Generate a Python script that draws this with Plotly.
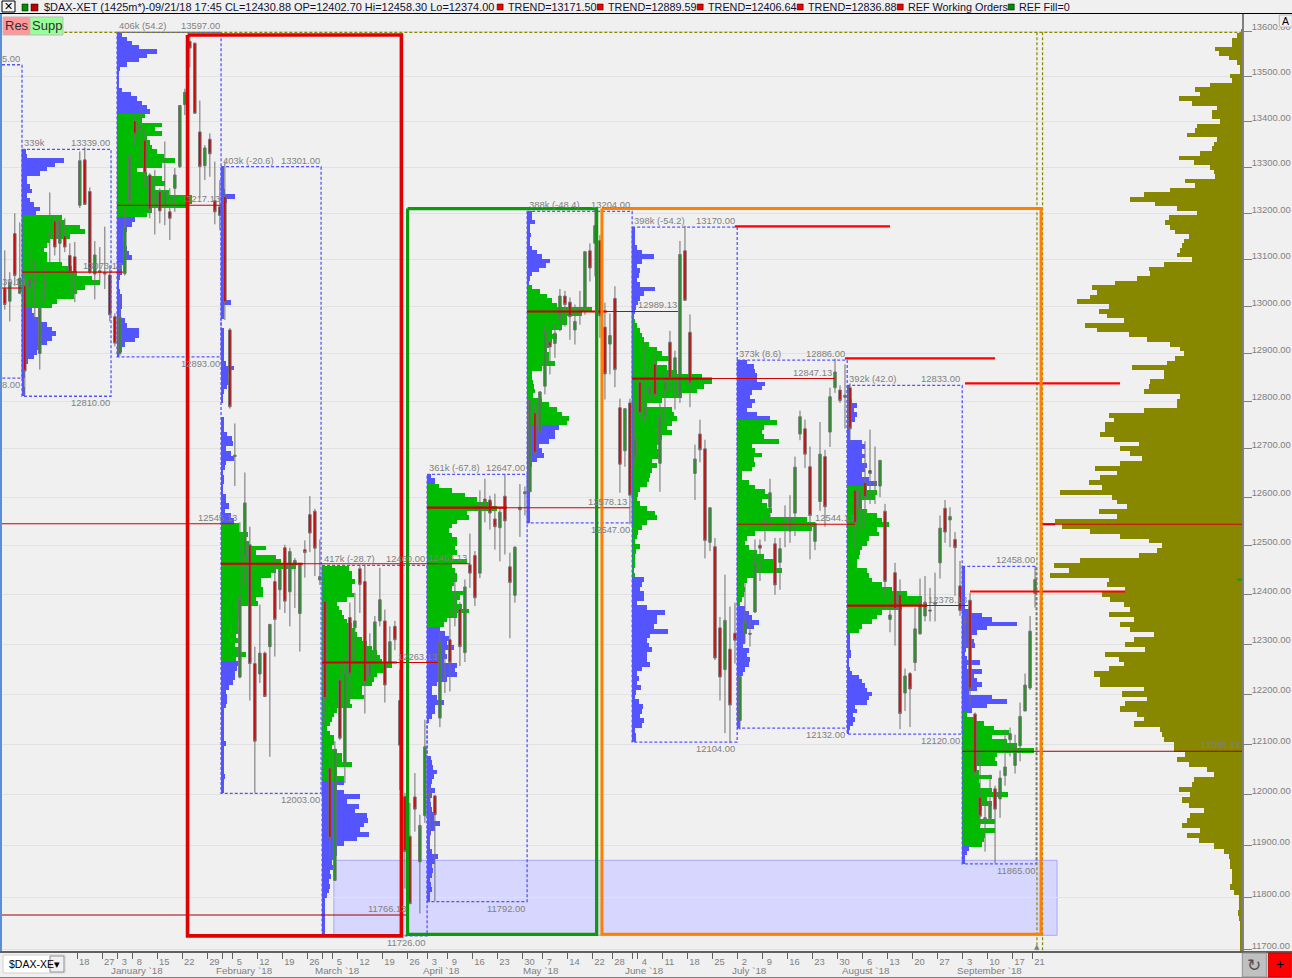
import math
import numpy as np
import plotly.graph_objects as go

# ---------- session candles (prices) ----------
highs = [13120,13073,13200,13180,13077,13120,13098,13035,13084,13245,
13196,13189,13189,13135,13138,13334,13343,13256,13140,13127,
13171,13088,12985,13026,13211,13330,13414,13428,13381,13287,
13294,13254,13356,13254,13298,13435,13472,13588,13574,13446,
13348,13374,13312,13272,13312,12954,12753,12548,12651,12539,
12295,12380,12285,12340,12479,12455,12502,12496,12475,12465,
12511,12602,12576,12513,12387,12079,12106,12261,12275,12384,
12404,12461,12461,12322,12357,12455,12370,12336,12347,12249,
12004,11984,12043,11961,12149,12017,12000,12322,12288,12370,
12445,12385,12431,12525,12489,12614,12638,12603,12607,12579,
12648,12486,12499,12627,12622,12803,12796,12821,12961,12926,
12964,13037,13033,13019,13004,13033,13118,13135,13211,13153,
13008,12985,13043,12805,12784,12805,12800,12842,12924,12875,
12901,12796,12863,12948,12906,13140,13173,12983,12709,12761,
12719,12579,12516,12355,12441,12376,12384,12237,12428,12351,
12513,12513,12558,12638,12516,12516,12583,12604,12684,12780,
12761,12705,12548,12756,12698,12828,12889,12833,12877,12837,
12614,12618,12716,12740,12705,12677,12586,12397,12465,12431,
12251,12244,12374,12433,12438,12414,12445,12562,12594,12579,
12528,12469,12360,12404,12163,12092,11991,12040,12018,12048,
12129,12133,12119,12183,12241,12357,12458.30]
tops = [13038,13051,13156,13060,13044,13058,13056,12996,13051,13156,
13183,13185,13151,13109,13106,13314,13316,13247,13110,13076,
13072,13067,12978,12978,13171,13323,13401,13388,13359,13283,
13233,13247,13247,13203,13283,13435,13464,13577,13573,13377,
13342,13361,13227,13214,13236,12950,12687,12394,12588,12502,
12261,12282,12282,12340,12427,12452,12496,12488,12470,12463,
12492,12564,12571,12437,12387,12053,12090,12228,12242,12354,
12347,12453,12427,12263,12345,12390,12347,12305,12336,12187,
11997,11919,11996,11940,12095,12002,11998,12304,12242,12309,
12398,12371,12416,12461,12480,12585,12596,12594,12555,12569,
12602,12457,12497,12579,12611,12803,12775,12819,12947,12924,
12943,13022,13022,13009,12968,12997,13117,13119,13173,13141,
12956,12938,13017,12786,12784,12796,12723,12840,12788,12829,
12878,12766,12842,12924,12891,13111,13119,12945,12679,12731,
12700,12578,12498,12333,12348,12290,12322,12235,12347,12322,
12465,12501,12548,12609,12504,12494,12546,12558,12662,12767,
12742,12663,12546,12689,12684,12809,12861,12823,12812,12828,
12614,12614,12630,12655,12632,12676,12571,12359,12445,12400,
12236,12241,12331,12386,12385,12369,12384,12536,12577,12560,
12513,12418,12346,12389,12160,11995,11955,11987,12012,12033,
12055,12121,12095,12155,12218,12326,12430.88]
bots = [13004,13011,13066,13028,12863,13042,13051,12900,13047,13151,
13127,13135,13127,13072,13070,13217,13219,13073,13069,13073,
13069,12982,12922,12900,13070,13225,13372,13385,13287,13207,
13230,13205,13218,13189,13254,13301,13437,13562,13418,13301,
13303,13329,13203,13195,13008,12788,12684,12234,12482,12261,
12106,12240,12195,12295,12350,12410,12387,12406,12460,12362,
12486,12526,12495,12430,12191,11915,11833,12112,12063,12240,
12333,12421,12223,12237,12285,12347,12218,12264,12309,12098,
11889,11788,11972,11869,11959,11997,11961,12152,12240,12263,
12394,12295,12283,12444,12394,12444,12590,12567,12539,12537,
12551,12425,12399,12574,12607,12611,12691,12735,12831,12914,
12921,12975,13004,12978,12950,12984,12996,13082,13135,12980,
12857,12920,12866,12668,12696,12604,12682,12774,12768,12815,
12812,12670,12821,12847,12859,12809,13013,12838,12649,12698,
12511,12507,12272,12234,12249,12178,12308,12147,12322,12320,
12365,12495,12544,12579,12420,12466,12542,12530,12567,12731,
12689,12562,12509,12591,12580,12735,12828,12801,12808,12742,
12546,12576,12599,12649,12625,12623,12427,12350,12370,12161,
12202,12210,12263,12321,12357,12367,12381,12465,12528,12553,
12496,12368,12342,12210,12043,11958,11952,11953,11972,11992,
12038,12109,12058,12097,12166,12212,12402.70]
lows = [12993,12968,13044,13026,12814,13000,12971,12866,13011,13091,
13109,13095,13116,13019,13009,13211,13218,13069,13015,13048,
13037,12968,12915,12895,13066,13222,13348,13305,13258,13189,
13154,13178,13174,13142,13203,13298,13414,13519,13417,13233,
13272,13279,13176,13163,12971,12784,12623,12231,12418,12187,
12004,12222,12195,12075,12275,12370,12363,12336,12373,12285,
12435,12487,12438,12420,12142,11876,11833,12108,12023,12187,
12261,12363,12161,12228,12261,12336,12183,12261,12288,12010,
11817,11788,11928,11769,11945,11919,11793,12134,12202,12205,
12336,12256,12264,12414,12377,12434,12548,12533,12492,12468,
12482,12312,12384,12518,12562,12611,12681,12733,12814,12856,
12891,12947,12957,12929,12919,12961,12982,13053,13064,12933,
12803,12856,12829,12609,12663,12544,12663,12761,12754,12796,
12807,12611,12754,12824,12782,12796,13012,12787,12594,12672,
12474,12489,12268,12187,12122,12102,12261,12129,12302,12295,
12363,12428,12509,12530,12400,12410,12497,12506,12520,12718,
12660,12472,12491,12572,12539,12704,12817,12796,12742,12711,
12496,12530,12537,12586,12586,12600,12394,12324,12297,12130,
12166,12134,12246,12319,12346,12346,12346,12433,12506,12497,
12398,12357,12295,12179,12036,11938,11889,11948,11866,11955,
12018,12076,12042,12066,12166,12208,12374.00]
colors = list("RGRGRGRGGG" "RGRRRGRRGG" "GRRGGGRRRR" "GRGRGGGRRR" "GRRRRRGGGR"
              "RGRGRGRGGG" "RRRGRRGRGR" "GRRGGGRGRR" "RRRGGGRGGR" "GRGRRGRRRG"
              "RRGGGGRGGR" "GGRRGGGRGR" "RGRRGRGRGG" "RGGRGGRRGR" "RGRRGRRGGR"
              "GRGGRGRGGG" "RRGGRGGRGR" "RGRRGGRGRR" "GRGGGRRGRG" "RRGRRRGGRG"
              "GGGGGGG")

# ---------- date axis ----------
tick_sessions = [15,20,23,26,31,36,41,44,46,51,56,61,64,66,71,76,81,85,89,94,99,104,108,113,118,122,126,127,
                 132,137,142,147,152,157,162,167,172,177,182,187,192,197,202,206]
tick_labels = ["18","27","3","8","15","22","29","","5","12","19","26","","5","12","19","26","3","9","16","23","30",
               "7","14","22","28","","4","11","18","25","2","9","16","23","30","6","13","20","27","3","10","17","21"]
month_labels = ["January `18","February `18","March `18","April `18","May `18","June `18","July `18","August `18","September `18"]
month_sessions = [26.4,48,66.6,87.3,107.2,128,149,172.2,196.8]
price_ticks = [13600,13500,13400,13300,13200,13100,13000,12900,12800,12700,12600,12500,12400,12300,12200,12100,12000,11900,11800,11700]

# ---------- composite volume profile (right side), every 10 points from 13600 down ----------
main_volume = [2,15,30,30,80,70,40,15,7,7,
35,30,95,140,125,190,150,75,90,90,
65,135,140,165,75,85,90,125,190,145,
95,85,80,170,140,215,295,335,260,195,
135,220,230,215,200,160,175,180,185,195,
150,235,280,275,315,380,450,435,455,495,
400,430,405,355,470,435,340,285,215,185,
175,200,225,330,235,235,275,280,295,185,
195,195,295,400,385,410,410,425,385,310,
365,335,300,365,440,375,425,460,420,545,
390,375,345,430,375,560,540,455,365,280,
240,255,310,485,565,520,575,400,405,350,
420,395,355,335,400,325,365,335,265,325,
350,290,410,370,355,400,445,425,425,295,
360,285,350,365,315,295,325,245,240,235,
205,205,170,195,160,105,85,145,150,190,
155,180,160,115,155,165,180,125,165,130,
85,55,40,37,37,30,30,30,35,25,
10,10,10,13,8,7,7,7,7,7,7]

# ---------- monthly profiles: volume per price bin, top to bottom ----------
jan0_upper = [4,5,42,33,25,18,5,5,8,10,5,8,12,18,14]
jan0_value = [40,43,58,63,48,28,25,22,25,25,40,50,55,70,78,63,55,52,35,30]
jan0_lower = [10,12,18,25,30,34,30,25,18,15,12,6,4,3,3,2,2,3,3]
jan_upper = [5,10,15,22,40,30,22,10,3,2,2,2,2,5,14,20,25,30,33]
jan_value = [28,25,45,38,45,30,33,35,40,47,58,45,20,30,45,48,38,52,75,75,70,35,30]
jan_lower = [18,15,10,8,6,8,10,12,15,8,5,5,3,2,1,3,5,5,5,4,4,8,10,22,22,18,8,5,2]
feb_upper = [3,3,3,3,3,4,14,6,3,3,3,3,3,3,3,3,3,3,3,3,3,3,3,3,3,3,3,3,3,10,3,3,3,0,0,3,3,3,3,3,3,3,5,13,10,7,10,6,3,2,2,0,0,0,3,3,3,6,11,12,5,10,13,5,4,2,3,3,2,2,5,5,8,4,10,13]
feb_value = [18,18,27,25,28,45,35,55,60,75,55,50,40,40,42,42,35,37,18,20,18,17,17,18,15,17,14,20,25,15]
feb_lower = [17,16,14,14,12,8,5,6,6,5,3,3,3,3,3,3,3,5,3,3,3,3,3,3,4,3,3,3]
mar_value = [27,30,30,33,30,30,32,25,15,17,20,22,25,30,33,35,40,45,50,55,58,60,70,62,55,52,50,40,40,42,28,30,15,12,10,8,5,8,12,12,10,15,20,20,30,15,15,22]
mar_lower = [22,15,22,38,25,37,33,45,46,42,38,47,35,22,15,15,12,10,11,8,9,7,8,7,5,3,3,3,3,3,3,3,3]
apr_upper = [4,8,8]
apr_value = [12,25,38,50,65,70,40,42,30,25,22,25,30,30,28,30,25,40,25,28,30,30,27,25,38,33,30,35,42,30,20,17]
apr_lower = [13,18,22,20,27,18,20,17,30,28,30,20,10,5,5,10,17,8,8,5,2,0,0,0,0,0,0,0,4,5,6,10,7,5,4,8,5,3,4,5,7,7,13,8,4,3,3,3,5,11,8,5,6,5,3,4,5,3,3]
may_upper = [5,5,8,3,3,4,3,3,5,10,15,23,19,12,5,3,2]
may_value = [5,13,20,25,30,65,55,40,40,35,25,30,25,22,20,22,22,28,15,5,5,6,7,8,6,15,22,30,35,42,40]
may_lower = [32,28,28,22,12,15,17,10,5,3,3,3,3,3,3,3,3,3,3,3,3]
jun_upper = [3,3,3,3,5,10,22,10,5,8,7,5,8,23,12,8,6,4,3]
jun_value = [2,3,5,8,10,12,17,25,30,38,25,35,45,70,80,72,65,50,30,15,40,42,45,40,35,40,30,28,25,27,28,20,25,20,18,17,15,8,6,5,8,15,23,25,15,10,6,5,3,8,4,3,3,3,2,3]
jun_lower = [12,10,8,12,12,5,15,33,25,25,22,36,18,15,17,20,15,15,18,10,5,7,5,9,4,3,7,11,10,8,12,10,3,4,4]
jul_upper = [10,17,18,20,20,28,25,15,13,18,15,10,20,33]
jul_value = [40,27,25,27,42,15,18,25,17,18,15,5,5,12,18,28,32,25,30,35,33,70,78,75,18,10,8,12,20,27,37,38,45,18,10,7,8,7,5,3]
jul_lower = [8,12,15,22,17,10,8,8,6,12,10,13,12,8,6,3,3,3,3,3,3,3,3,3,3,3]
aug_upper = [3,3,3,5,10,7,10,8,4,3,3,3,15,18,15,18,15,20,18,15,22,30]
aug_value = [20,30,28,15,15,20,30,35,42,30,32,22,20,15,13,12,10,10,20,22,25,35,45,60,75,75,55,35,30,25,15,12]
aug_lower = [3,3,3,3,4,4,2,2,3,5,12,15,18,20,25,22,20,8,10,6,8,6,3,2]
sep_upper = [3,3,3,3,3,3,3,3,3,3,8,20,30,55,25,15,8,12,13,4,3,5,18,5,20,12,15,20,15,7,30,45,25,10]
sep_value = [5,13,22,32,47,30,45,55,72,35,33,35,15,17,30,17,18,30,46,25,30,20,17,18,33,18,33,23,22,20]
sep_lower = [7,5,3,3]

# hi/lo prices of each profile segment
segments = [
 (3.44, jan0_upper, 13339, 13195, "b"), (3.44, jan0_value, 13195, 12996, "g"), (3.44, jan0_lower, 12996, 12810, "b"),
 (22.44, jan_upper, 13597, 13417, "b"), (22.44, jan_value, 13417, 13191, "g"), (22.44, jan_lower, 13191, 12893, "b"),
 (43.24, feb_upper, 13301, 12547, "b"), (43.24, feb_value, 12547, 12265, "g"), (43.24, feb_lower, 12265, 12003, "b"),
 (63.44, mar_value, 12458, 12028, "g"), (63.44, mar_lower, 12028, 11726, "b"),
 (84.44, apr_upper, 12647, 12627, "b"), (84.44, apr_value, 12627, 12335, "g"), (84.44, apr_lower, 12335, 11792, "b"),
 (104.44, may_upper, 13204, 13046, "b"), (104.44, may_value, 13046, 12749, "g"), (104.44, may_lower, 12749, 12547, "b"),
 (125.44, jun_upper, 13170, 12983, "b"), (125.44, jun_value, 12983, 12435, "g"), (125.44, jun_lower, 12435, 12104, "b"),
 (146.44, jul_upper, 12886, 12759, "b"), (146.44, jul_value, 12759, 12377, "g"), (146.44, jul_lower, 12377, 12132, "b"),
 (168.44, aug_upper, 12833, 12623, "b"), (168.44, aug_value, 12623, 12322, "g"), (168.44, aug_lower, 12322, 12120, "b"),
 (191.44, sep_upper, 12458, 12163, "b"), (191.44, sep_value, 12163, 11899, "g"), (191.44, sep_lower, 11899, 11865, "b"),
]
# dashed profile boxes: start session, end session, top, bottom
profile_boxes = [(3.44,21.24,13339,12810),(22.44,43.24,13597,12893),(43.24,63.24,13301,12003),(63.44,84.44,12460,11726),
                 (84.44,104.44,12647,11792),(104.44,125.44,13204,12547),(125.44,146.44,13170,12104),(146.44,168.44,12886,12132),
                 (168.44,191.44,12833,12120),(191.44,206.24,12458,11865)]
# point-of-control lines: start, thick end, thin end, price
poc_lines = [(3.44,3.44,23.6,13073.13),(22.44,22.44,43.24,13217.13),(43.24,59.6,93,12463.13),(63.44,78.4,86.6,12263.13),
             (84.44,100.4,125,12578.13),(104.44,120.4,134.6,12989.13),(125.44,141.4,166,12847.13),(146.44,146.44,170,12544.13),
             (168.44,184.4,192.6,12378.13),(191.44,191.44,247.4,12086.13),(207.2,210,247.4,12544.13)]
old_lines = [(-0.56,45.8,12545.13),(-0.56,3.44,13039.13),(-0.56,80.4,11766.13)]
trend_lines = [(146,177,13171.50),(168,198,12889.59),(192,223,12836.88),(193,224,12406.64)]
region_boxes = [(36.54,79.3,13591,11726,"#e00000",3.6),(80.54,118.34,13210,11729,"#0a9a0a",3.2),(119.4,207.2,13210,11729,"#ff8000",3.0)]
zone_box = (65.8,210.4,11872,11727)

W, H = 1294.6, 978
L, R, T, B = 2, 52.9, 14, 26
PW, PH = W-L-R, H-T-B
BLUE, GREEN, OLIVE = "#5555ff", "#00bb00", "#888800"
def xi(px): return (px-4.8)/5
def X(px): return (px-L)/PW
def Y(py): return 1-(py-T)/PH

fig = go.Figure()
main_prices = [13600-10*k for k in range(len(main_volume))]
fig.add_trace(go.Bar(orientation="h", y=main_prices, x=[-v/15 for v in main_volume], base=247.38, width=10.4,
                     marker=dict(color=OLIVE, line=dict(width=0)), hoverinfo="skip"))
for base, vals, hi, lo, c in segments:
    n = len(vals)
    step = (hi-lo)/n
    ys = [hi-step*(k+.5) for k in range(n)]
    fig.add_trace(go.Bar(orientation="h", y=ys, x=[v/5 for v in vals], base=base, width=step*1.05,
                         marker=dict(color=BLUE if c=="b" else GREEN, line=dict(width=0)), hoverinfo="skip"))
sessions = list(range(len(highs)))
opens = [b if c=="G" else t for t,b,c in zip(tops,bots,colors)]
closes = [t if c=="G" else b for t,b,c in zip(tops,bots,colors)]
fig.add_trace(go.Candlestick(x=sessions, open=opens, high=highs, low=lows, close=closes, whiskerwidth=0,
    increasing=dict(line=dict(color="#707070",width=1), fillcolor="#1a9a1a"),
    decreasing=dict(line=dict(color="#707070",width=1), fillcolor="#d00000"), hoverinfo="skip"))

def line(xs, ys, color, width, dash=None):
    fig.add_trace(go.Scatter(x=xs, y=ys, mode="lines", line=dict(color=color,width=width,dash=dash), hoverinfo="skip"))

for x0,x1,t,b in profile_boxes:
    line([x0,x1,x1,x0,x0],[t,t,b,b,t],BLUE,1.3,"3px,2px")
line([-0.56,3.44,3.44,-0.56],[13525,13525,12848,12848],BLUE,1.3,"3px,2px")
line([11.9,247.38],[13597,13597],OLIVE,1.2,"3px,2px")
line([xi(1036.7),xi(1036.7)],[13597,11695],OLIVE,1.2,"3px,2px")
line([xi(1042.3),xi(1042.3)],[13597,11695],OLIVE,1.2,"3px,2px")
for x0,x1,x2,p in poc_lines:
    line([x0,x2],[p,p],"#d00000" if p>12100 else "#a00000",1.1)
    if x1>x0:
        line([x0,x1],[p,p],"#d00000",2.2)
for x0,x1,p in old_lines:
    line([x0,x1],[p,p],"#d00000" if p>12000 else "#a00000",1.1)
for x0,x1,p in trend_lines:
    line([x0,x1],[p,p],"#ff0000",2.2)
line([xi(1237),xi(1241)],[12430.88,12430.88],"#00a000",2)
for x0,x1,t,b,c,w in region_boxes:
    line([x0,x1,x1,x0,x0],[t,t,b,b,t],c,w)

shapes = [dict(type="rect",xref="x",yref="y",x0=zone_box[0],x1=zone_box[1],y0=zone_box[2],y1=zone_box[3],
               fillcolor="#d6d6ff",line=dict(color="#a8a8ff",width=1),layer="below")]
def rect(x0,y0,x1,y1,fill,lc=None,lw=0):
    shapes.append(dict(type="rect",xref="paper",yref="paper",x0=X(x0),x1=X(x1),y0=Y(y0),y1=Y(y1),
                       fillcolor=fill,line=dict(color=lc or fill,width=lw),layer="above"))
rect(0,14,2,951,"#5b8fd5")
rect(0,0,1292,13,"#f0f0f0")
rect(0,13,1292,14,"#000000")
rect(0,951,1292,953,"#606060")
rect(0,977,1292,978,"#808080")
rect(2,1,15,12,"#f4f4f4","#000000",1)
rect(22,4,28,11,"#009000","#000000",.5)
rect(31,4,38,11,"#c00000","#000000",.5)
for px in (500,600,700,800,900):
    rect(px-3,4,px+3,10,"#f00000","#000000",.5)
rect(1008,4,1014,10,"#009000","#000000",.5)
rect(3,17,30,35,"#ff9999","#bbbbbb",1)
rect(30,17,63,35,"#99ff99","#bbbbbb",1)
rect(1279,15,1292,27,"#f0f0f0","#bbbbbb",1)
rect(3,955,65,973,"#ffffff","#d0d0d0",1)
rect(50,956,64,972,"#f0f0f0","#909090",1)
rect(1242,953,1266,977,"#c0c0c0","#909090",1)
rect(1268,953,1291,977,"#ff0000","#c00000",1)

ann = []
def txt(s,px,py,size=10.8,color="#101030",anchor="left",font="Liberation Sans"):
    ann.append(dict(text=s,xref="paper",yref="paper",x=X(px),y=Y(py),xanchor=anchor,yanchor="middle",showarrow=False,
                    font=dict(size=size,color=color,family=font),borderpad=0))
txt("$DAX-XET (1425m*)-09/21/18 17:45 CL=12430.88 OP=12402.70 Hi=12458.30 Lo=12374.00",43,7,10.95)
for px,s in zip((507,607,707,807),("TREND=13171.50","TREND=12889.59","TREND=12406.64","TREND=12836.88")):
    txt(s,px,7)
txt("REF Working Orders",907,7)
txt("REF Fill=0",1018,7)
txt("✕",8.5,6.5,11,"#000000","center","DejaVu Sans")
txt("Res",16.5,25,13,"#303030","center")
txt("Supp",46.5,25,13,"#303030","center")
txt("A",1285.5,21,10.5,"#000000","center")
txt("$DAX-XE",8,964,10.5,"#000000")
txt("▾",57,964,11,"#000000","center","DejaVu Sans")
txt("↻",1254,965,17,"#505050","center","DejaVu Sans")
txt("+",1279.5,964,14,"#000000","center")
txt("▲",1036.5,947,7,"#808080","center","DejaVu Sans")

GRAY = "#808080"
def lab(s,px,price,anchor,va="bottom",yshift=0):
    ann.append(dict(text=s,xref="x",yref="y",x=xi(px),y=math.log10(price),xanchor=anchor,yanchor=va,yshift=yshift,
                    showarrow=False,font=dict(size=9.4,color=GRAY,family="Liberation Sans"),borderpad=0))
for s,px,p in [("339k",23,13339),("406k (54.2)",118,13597),("403k (-20.6)",222,13301),("417k (-28.7)",323,12460),
               ("361k (-67.8)",428,12647),("388k (-48.4)",528,13204),("398k (-54.2)",633,13170),("373k (8.6)",738,12886),("392k (42.0)",848,12833)]:
    lab(s,px,p,"left")
for s,px,p in [("13339.00",111,13339),("13597.00",221,13597),("13301.00",321,13301),("12460.00",426,12460),("12647.00",526,12647),
               ("13204.00",631,13204),("13170.00",736,13170),("12886.00",846,12886),("12833.00",961,12833),("12458.00",1036,12458),
               ("5.00",21,13525),("13073.13",123,13073.13),("13217.13",221,13217.13),("12545.13",238,12545.13),("12463.13",468,12463.13),
               ("12263.13",438,12263.13),("12578.13",628,12578.13),("12989.13",678,12989.13),("12847.13",833,12847.13),
               ("12544.13",855,12544.13),("12378.13",968,12378.13),("12086.13",1241,12086.13),("11766.13",407,11766.13),("39.13",26,13039.13)]:
    lab(s,px,p,"right")
for s,px,p in [("8.00",21,12848),("12810.00",111,12810),("12893.00",221,12893),("12003.00",321,12003),("11726.00",426,11726),("11792.00",526,11792),
               ("12547.00",631,12547),("12104.00",736,12104),("12132.00",846,12132),("12120.00",961,12120),("11865.00",1036,11865)]:
    lab(s,px,p,"right","top")
for s,k in zip(month_labels,month_sessions):
    ann.append(dict(text=s,xref="x",yref="paper",x=k,y=Y(970.5),xanchor="center",yanchor="middle",showarrow=False,
                    font=dict(size=9.8,color=GRAY,family="Liberation Sans"),borderpad=0))

fig.update_layout(width=W,height=H,autosize=False,margin=dict(l=L,r=R,t=T,b=B,pad=0),showlegend=False,
    paper_bgcolor="#f0f0f0",plot_bgcolor="#f0f0f0",barmode="overlay",bargap=0,shapes=shapes,annotations=ann,
    font=dict(family="Liberation Sans",size=9.4,color=GRAY),
    xaxis=dict(range=[xi(2),xi(1241.7)],rangeslider=dict(visible=False),showgrid=False,zeroline=False,showline=False,
               tickmode="array",tickvals=[s-0.5 for s in tick_sessions],ticktext=tick_labels,ticks="outside",ticklen=6,tickcolor="#606060",
               ticklabelshift=7,ticklabelstandoff=-5,tickfont=dict(size=9.4,color=GRAY)),
    yaxis=dict(type="log",range=[4.06800,4.13475],side="right",showgrid=True,gridcolor="#e2e2e2",gridwidth=1.4,zeroline=False,
               showline=True,linecolor="#808080",linewidth=1.5,tickmode="array",tickvals=price_ticks,
               ticktext=[f"{p}.00" for p in price_ticks],ticks="outside",ticklen=8,tickcolor="#808080",ticklabelshift=-4,ticklabelstandoff=-2,
               tickfont=dict(size=9.4,color=GRAY)))
fig.write_html("out.html",config=dict(displayModeBar=False),
               post_script="document.body.style.margin='0';document.body.style.overflow='hidden';")
